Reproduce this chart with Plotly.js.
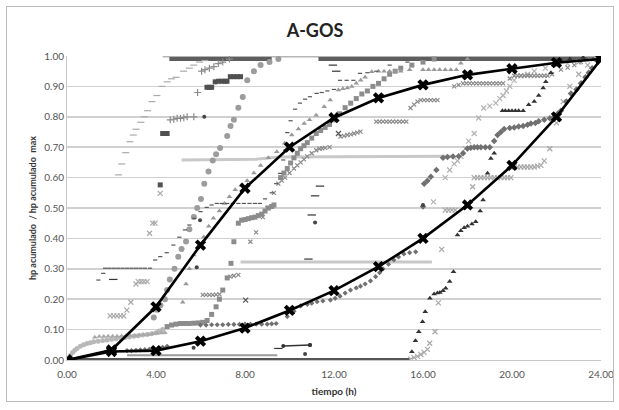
<!DOCTYPE html>
<html>
<head>
<meta charset="utf-8">
<script src="https://cdn.plot.ly/plotly-3.0.1.min.js"></script>
<style>
html,body{margin:0;padding:0;background:#fff;}
#wrap{position:relative;width:619px;height:410px;}
#chart{width:619px;height:410px;}
#frame{position:absolute;left:6px;top:6px;width:606px;height:394px;border:1px solid #bdbdbd;pointer-events:none;}
</style>
</head>
<body>
<div id="wrap"><div id="chart"></div><div id="frame"></div></div>
<script>
// ---- data ----
const hours = [0,2,4,6,8,10,12,14,16,18,20,22,24];
const fastMean = [0,0.033,0.175,0.378,0.565,0.70,0.797,0.862,0.905,0.938,0.958,0.978,0.99];
const slowMean = [0,0.028,0.031,0.062,0.105,0.163,0.228,0.307,0.40,0.51,0.64,0.80,0.99];

// dense bands (drawn as thick strokes)
const topDarkT1 = [4.6,9.2], topDarkY1 = [0.99,0.99];
const topDarkT2 = [11.3,24], topDarkY2 = [0.99,0.99];
const topLightT = [4.3,24], topLightY = [1.0,1.0];
const bottomDarkT = [0,15.4], bottomDarkY = [0,0];
const bottomLightT = [2.7,9.45], bottomLightY = [0.016,0.016];
const band032T = [7.8,16.4], band032Y = [0.322,0.322];
const band066T = [5.15,8.5,9.5,17.3], band066Y = [0.658,0.66,0.668,0.67];
const shortLineT = [9.72,10.92], shortLineY = [0.046,0.049];

// marker series
const lightDashT = [2.31,2.46,2.64,2.83,2.98,3.1,3.32,3.47,3.62,3.82,4.04,4.27,4.5,4.7,4.9,5.24,5.5,5.7,5.95,6.2];
const lightDashY = [0.609,0.645,0.682,0.718,0.74,0.759,0.782,0.80,0.82,0.85,0.87,0.90,0.915,0.925,0.93,0.95,0.96,0.97,0.98,0.985];

const medCircT = [3.9,4.05,4.2,4.4,4.5,4.62,4.83,5.0,5.15,5.35,5.5,5.7,5.85,6.02,6.17,6.36,6.55,6.7,6.88,7.2,7.35,7.5,7.7,7.9,8.1,8.4,8.7,9.1,9.5];
const medCircY = [0.14,0.165,0.18,0.20,0.23,0.265,0.30,0.34,0.365,0.39,0.43,0.47,0.50,0.53,0.58,0.62,0.656,0.677,0.697,0.737,0.77,0.79,0.83,0.865,0.92,0.95,0.97,0.98,0.99];

const lightCircT = [0.05,0.15,0.25,0.35,0.45,0.6,0.75,0.9,1.05,1.2,1.4,1.6,1.8,2.0,2.2,2.4,2.6,2.8,3.0,3.2,3.4,3.6,3.8,4.0,4.15,4.3];
const lightCircY = [0.005,0.015,0.025,0.032,0.038,0.045,0.05,0.054,0.057,0.06,0.062,0.064,0.066,0.068,0.07,0.072,0.074,0.076,0.078,0.08,0.082,0.084,0.086,0.09,0.095,0.10];

const medSqT = [4.5,4.7,4.9,5.1,5.3,5.5,5.7,5.9,6.1,6.3,6.5,6.7,6.85,7.0,7.2,7.37,7.5,7.7,7.85,8.0,8.15,8.3,8.45,8.6,8.75,8.9,9.05,9.2,9.3,9.6,9.75,9.9,10.05,10.2,10.35,10.5,10.65,10.8,11.0,11.2,11.4,11.6,11.8,12.0,12.25,12.5,12.75,13.0,13.25,13.5,13.75,14.0,14.25,14.5,14.75,15.0,15.5,16.0,16.5];
const medSqY = [0.11,0.115,0.118,0.12,0.12,0.12,0.121,0.122,0.124,0.13,0.15,0.175,0.2,0.23,0.27,0.318,0.389,0.45,0.46,0.462,0.465,0.468,0.47,0.475,0.48,0.49,0.50,0.505,0.51,0.60,0.615,0.63,0.648,0.665,0.68,0.695,0.705,0.715,0.73,0.745,0.755,0.765,0.775,0.79,0.81,0.83,0.845,0.86,0.875,0.885,0.9,0.91,0.925,0.94,0.95,0.96,0.97,0.98,0.99];

const lightTriT = [1.25,1.45,1.65,1.85,2.05,2.25,2.45,2.65,2.85,3.05,3.25,3.45,3.65,3.85,4.05,4.25,4.4];
const lightTriY = [0.075,0.077,0.077,0.078,0.078,0.078,0.079,0.08,0.08,0.081,0.082,0.083,0.084,0.086,0.088,0.089,0.09];

const medTriT = [5.2,5.35,5.5,5.7,5.95,6.15,6.37,6.58,6.85,7.08,7.3,7.56,7.83,8.1,8.4,8.7,9.05,9.43,9.78,10.1,10.4,10.66,10.9,11.2,11.56,11.83,12.2,12.4,12.6,12.8,13.0,13.2,13.4,13.7,14.0,14.25,14.5,14.75,15.0,15.4,16.0,16.25,16.5,16.75,17.0,17.25,17.5,17.7,18.0];
const medTriY = [0.19,0.25,0.30,0.345,0.375,0.405,0.44,0.466,0.49,0.515,0.537,0.56,0.575,0.59,0.615,0.64,0.665,0.685,0.713,0.74,0.76,0.778,0.79,0.805,0.833,0.855,0.888,0.892,0.895,0.9,0.91,0.92,0.93,0.948,0.95,0.95,0.95,0.95,0.95,0.955,0.955,0.955,0.955,0.955,0.955,0.955,0.955,0.976,0.99];

const blackTriT = [15.5,15.66,15.81,15.98,16.1,16.31,16.5,16.65,16.76,16.9,17.02,17.2,17.37,17.55,17.7,17.85,18.0,18.2,18.37,18.57,18.7,18.9,19.05,19.2,19.57,19.7,19.85,20.0,20.15,20.3,20.5,20.75,21.0,21.2,21.4,21.52,21.75,21.97,22.2,22.6,23.2];
const blackTriY = [0.027,0.063,0.093,0.126,0.159,0.203,0.217,0.22,0.222,0.228,0.236,0.258,0.29,0.411,0.425,0.435,0.44,0.447,0.455,0.49,0.526,0.614,0.663,0.68,0.82,0.82,0.82,0.82,0.82,0.82,0.82,0.84,0.85,0.87,0.895,0.915,0.945,0.97,0.985,0.99,0.995];

const lateDiaT = [16.0,16.05,16.2,16.35,16.6,16.9,17.1,17.35,17.6,17.8,18.0,18.15,18.3,18.45,18.6,18.8,19.0,19.2,19.35,19.5,19.65,19.9,20.1,20.3,20.5,20.7,20.85,21.05,21.2,21.45,21.7,21.9,22.05,22.2,22.45,22.65,22.9,23.1,23.3,23.45,23.6,23.85];
const lateDiaY = [0.505,0.58,0.59,0.603,0.625,0.665,0.668,0.669,0.67,0.68,0.696,0.698,0.70,0.70,0.70,0.70,0.70,0.72,0.74,0.75,0.76,0.763,0.765,0.768,0.77,0.774,0.778,0.78,0.785,0.79,0.795,0.80,0.81,0.82,0.85,0.877,0.89,0.91,0.93,0.945,0.96,0.985];

const slowDiaT = [2.7,2.9,3.1,3.3,3.5,3.7,3.9,4.1,4.3,4.5,6.0,6.25,6.5,6.75,7.0,7.25,7.5,7.75,8.0,8.25,8.5,8.75,9.0,9.2,9.4,9.9,10.2,10.5,10.8,11.0,11.24,11.5,11.84,12.05,12.27,12.5,12.74,13.0,13.19,13.4,13.64,13.87,14.05,14.2,14.45,14.69,14.9,15.14,15.4,15.67];
const slowDiaY = [0.031,0.031,0.032,0.033,0.034,0.035,0.037,0.039,0.042,0.045,0.115,0.115,0.116,0.116,0.116,0.117,0.117,0.117,0.118,0.118,0.118,0.118,0.118,0.119,0.12,0.143,0.16,0.178,0.183,0.187,0.192,0.194,0.197,0.203,0.21,0.22,0.23,0.237,0.243,0.25,0.26,0.274,0.287,0.30,0.315,0.329,0.339,0.349,0.353,0.356];

const medXT = [6.1,6.25,6.4,6.55,6.7,6.85,7.34,7.5,7.7,8.24,8.5,8.8,9.0,9.3,9.5,9.65,9.8,10.0,10.2,10.35,10.5,10.65,10.8,11.0,11.2,11.35,11.47,11.6,11.8,12.29,12.45,12.6,12.75,12.9,13.05,13.19,13.9,14.05,14.2,14.35,14.5,14.65,14.8,14.95,15.1,15.25,15.44,15.6,15.75,15.9,16.05,16.2,16.35,16.5,16.65,17.4,17.6,17.8,17.95,18.1,18.25,18.4,18.55,18.7,18.85,19.0,19.15,19.3,19.45,19.6,19.9,20.1,20.25,20.4,20.55,20.7,20.85,21.0,21.15,21.3,21.45,21.6,21.8,22.2,22.5,22.8,23.1,23.5];
const medXY = [0.214,0.214,0.214,0.214,0.215,0.216,0.274,0.277,0.28,0.389,0.42,0.47,0.50,0.55,0.58,0.59,0.60,0.615,0.63,0.64,0.65,0.66,0.67,0.68,0.69,0.695,0.696,0.698,0.70,0.735,0.737,0.74,0.742,0.745,0.748,0.751,0.784,0.784,0.784,0.784,0.784,0.784,0.784,0.784,0.784,0.784,0.829,0.84,0.85,0.855,0.855,0.855,0.855,0.855,0.855,0.90,0.905,0.91,0.91,0.91,0.91,0.91,0.91,0.91,0.91,0.91,0.91,0.91,0.91,0.91,0.926,0.935,0.935,0.935,0.935,0.935,0.935,0.935,0.935,0.935,0.935,0.935,0.94,0.955,0.962,0.97,0.98,0.99];

const lightXLeftT = [1.94,2.1,2.25,2.4,2.55,2.69,2.87,3.1,3.2,3.33,3.46,3.6,3.71,3.85,3.96,4.19];
const lightXLeftY = [0.145,0.145,0.145,0.145,0.145,0.164,0.19,0.25,0.258,0.258,0.258,0.258,0.417,0.45,0.45,0.548];

const lightXLateT = [15.45,15.6,15.75,15.9,16.05,16.2,16.3,16.54,16.69,16.84,17.0,17.15,17.3,17.45,18.23,18.3,18.45,18.6,18.75,18.9,19.05,19.2,19.35,19.5,19.65,19.8,19.95,20.1,20.25,20.4,20.55,20.7,20.85,21.0,21.15,21.3,21.45,21.7,22.0,22.3,22.6,23.0,23.4,23.8];
const lightXLateY = [0.003,0.008,0.012,0.018,0.025,0.035,0.055,0.093,0.188,0.364,0.493,0.493,0.493,0.493,0.57,0.60,0.60,0.60,0.60,0.60,0.60,0.60,0.60,0.60,0.60,0.60,0.60,0.635,0.635,0.635,0.635,0.635,0.635,0.635,0.638,0.64,0.655,0.695,0.78,0.85,0.90,0.94,0.97,0.99];

const lightXRiseT = [16.47,17.0,17.2,17.4,17.55,17.7,17.9,18.05,18.3,18.5,18.73,19.0,19.27,19.45,19.6,19.75,19.9,20.1,20.4,20.7,21.0,21.5,22.0,22.5,23.0];
const lightXRiseY = [0.52,0.60,0.625,0.645,0.655,0.67,0.695,0.72,0.745,0.796,0.829,0.835,0.845,0.86,0.87,0.885,0.90,0.92,0.935,0.94,0.95,0.96,0.97,0.975,0.98];

const darkSqT = [4.19,4.3,4.4,4.5,6.29,6.4,6.5,6.66,6.8,6.95,7.1,7.19,7.34,7.5,7.65,7.8];
const darkSqY = [0.576,0.745,0.745,0.745,0.897,0.897,0.897,0.915,0.917,0.917,0.917,0.917,0.932,0.932,0.932,0.932];

const plusT = [4.64,4.8,4.95,5.1,5.25,5.4,5.7,5.87,6.05,6.2,6.4,6.6,6.8,7.0,7.3];
const plusY = [0.79,0.792,0.795,0.795,0.797,0.80,0.80,0.88,0.95,0.955,0.96,0.965,0.975,0.98,0.99];

const dotT = [1.41,1.63,1.71,1.9,2.1,2.3,2.5,2.7,2.9,3.1,3.3,3.5,3.73,3.96,4.19,4.48,4.78,5.05,5.3,5.5,5.72,6.0,6.28,6.5,6.73,6.95,7.2,7.45,7.7,7.95,8.2,8.45,8.67,8.9,9.2,9.4,9.57,9.72,9.8,9.9,10.05,10.25,10.47,10.7,10.92,11.22,11.45,11.7,12.0,12.27,12.57,12.87,13.17,13.5,13.9,14.5,15.3,16.0];
const dotY = [0.263,0.285,0.302,0.302,0.302,0.302,0.302,0.302,0.302,0.302,0.302,0.302,0.302,0.329,0.34,0.353,0.378,0.404,0.428,0.444,0.466,0.488,0.502,0.51,0.515,0.515,0.515,0.515,0.515,0.515,0.515,0.515,0.515,0.53,0.55,0.58,0.614,0.658,0.69,0.748,0.787,0.825,0.845,0.858,0.866,0.877,0.88,0.885,0.89,0.92,0.92,0.92,0.943,0.945,0.95,0.97,0.98,0.99];

const dashT = [2.08,9.5,11.0,11.15,11.37,10.85,11.95,12.1];
const dashY = [0.265,0.038,0.477,0.54,0.572,0.332,0.97,0.95];

const darkDotT = [5.69,10.7,11.15,16.0,5.83,5.98,6.17,10.92];
const darkDotY = [0.04,0.02,0.452,0.51,0.305,0.46,0.80,0.049];

const darkXT = [8.03,12.2];
const darkXY = [0.197,0.745];

// ---- traces ----
function band(t, y, color, w){ return {x:t, y:y, mode:'lines', line:{color:color, width:w}, hoverinfo:'skip'}; }
function pts(t, y, symbol, size, color, open){
  const m = {symbol:symbol, size:size, color:color};
  if (open) m.line = {color:color, width:1.2};
  return {x:t, y:y, mode:'markers', marker:m, hoverinfo:'skip'};
}

const traces = [
  band(topLightT, topLightY, '#b5b5b5', 3),
  band(topDarkT1, topDarkY1, '#5e5e5e', 4),
  band(topDarkT2, topDarkY2, '#5e5e5e', 4),
  band(bottomLightT, bottomLightY, '#9a9a9a', 2),
  band(bottomDarkT, bottomDarkY, '#555555', 4),
  band(band032T, band032Y, '#c8c8c8', 3),
  band(band066T, band066Y, '#c8c8c8', 3),
  pts(lightCircT, lightCircY, 'circle', 5, '#b8b8b8'),
  pts(lightTriT, lightTriY, 'triangle-up', 5, '#a8a8a8'),
  pts(lightDashT, lightDashY, 'line-ew-open', 5, '#aaaaaa', true),
  pts(medCircT, medCircY, 'circle', 6, '#9c9c9c'),
  pts(medSqT, medSqY, 'square', 5, '#8c8c8c'),
  pts(medTriT, medTriY, 'triangle-up', 5, '#999999'),
  pts(lightXLeftT, lightXLeftY, 'x-thin-open', 5, '#a8a8a8', true),
  pts(lightXLateT, lightXLateY, 'x-thin-open', 5, '#a8a8a8', true),
  pts(lightXRiseT, lightXRiseY, 'x-thin-open', 5, '#b2b2b2', true),
  pts(medXT, medXY, 'x-thin-open', 4, '#8a8a8a', true),
  pts(plusT, plusY, 'cross-thin-open', 5, '#8c8c8c', true),
  pts(lateDiaT, lateDiaY, 'diamond', 5, '#707070'),
  pts(slowDiaT, slowDiaY, 'diamond', 4, '#707070'),
  pts(darkSqT, darkSqY, 'square', 5, '#505050'),
  pts(dotT, dotY, 'line-ew-open', 3, '#555555', true),
  pts(dashT, dashY, 'line-ew-open', 6, '#333333', true),
  pts(darkDotT, darkDotY, 'circle', 4, '#444444'),
  pts(darkXT, darkXY, 'x-thin-open', 5, '#555555', true),
  pts(blackTriT, blackTriY, 'triangle-up', 5, '#333333'),
  {x:shortLineT, y:shortLineY, mode:'lines+markers', line:{color:'#333', width:1.5}, marker:{symbol:'circle', size:4, color:'#333'}, hoverinfo:'skip'},
  {x:hours, y:fastMean, mode:'lines+markers', line:{color:'#000', width:2.6}, marker:{symbol:'x', size:10, color:'#000'}, hoverinfo:'skip'},
  {x:hours, y:slowMean, mode:'lines+markers', line:{color:'#000', width:2.6}, marker:{symbol:'x', size:10, color:'#000'}, hoverinfo:'skip'}
];

const layout = {
  width:619, height:410,
  margin:{l:67, r:18, t:56, b:50},
  paper_bgcolor:'#fff', plot_bgcolor:'#fff',
  showlegend:false,
  font:{family:'Lato, "Open Sans", sans-serif', color:'#444'},
  title:{text:'<b>A-GOS</b>', font:{size:18, color:'#222', family:'Lato, "Open Sans", sans-serif'}, x:315/619, xref:'container', xanchor:'center', y:1-31/410, yref:'container', yanchor:'middle'},
  xaxis:{range:[0,24], tickvals:[0,4,8,12,16,20,24], tickformat:'.2f', showgrid:false, zeroline:false,
    showline:true, linecolor:'#c8c8c8', linewidth:1, ticks:'', ticklabelstandoff:5, tickfont:{size:10, color:'#555'},
    title:{text:'<b>tiempo (h)</b>', font:{size:10, color:'#333'}, standoff:8}},
  yaxis:{range:[0,1.0], dtick:0.1, tick0:0, tickformat:'.2f', showgrid:true, gridcolor:'#d0d0d0', gridwidth:1.5,
    zeroline:false, showline:true, linecolor:'#c8c8c8', linewidth:1, ticks:'', tickfont:{size:10, color:'#555'},
    title:{text:'<b>hp acumulado  / hp acumulado  max</b>', font:{size:9, color:'#333'}, standoff:6}}
};

Plotly.newPlot('chart', traces, layout, {displayModeBar:false, staticPlot:true});
</script>
</body>
</html>
